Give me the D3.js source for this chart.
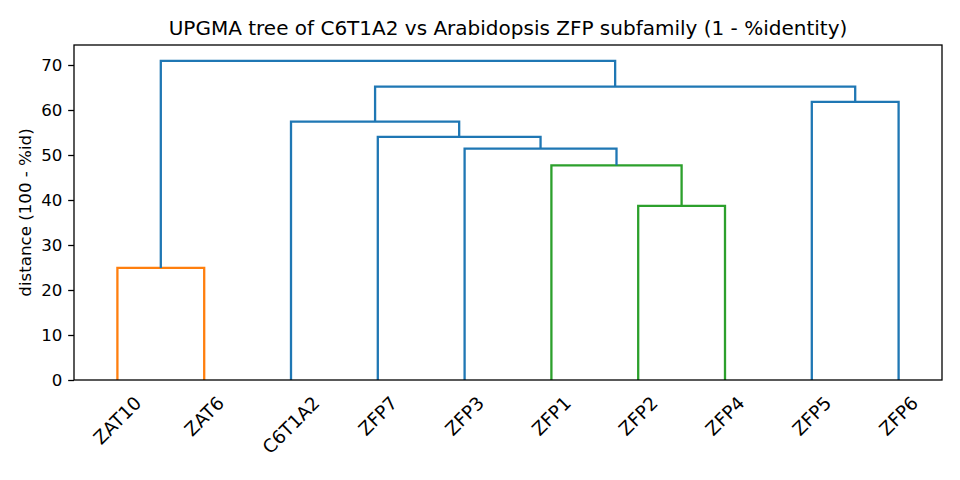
<!DOCTYPE html>
<html>
<head>
<meta charset="utf-8">
<script src="https://cdn.jsdelivr.net/npm/d3@7"></script>
<style>
  body { margin: 0; background: white; }
  text { font-family: "DejaVu Sans", sans-serif; fill: black; }
</style>
</head>
<body>
<script>
// leaves in dendrogram order
var leaves = ["ZAT10", "ZAT6", "C6T1A2", "ZFP7", "ZFP3", "ZFP1", "ZFP2", "ZFP4", "ZFP5", "ZFP6"];

// linkage rows: child a, child b, height (ids >= 10 are earlier merges, scipy style)
var linkA = [0, 6, 5, 4, 3, 2, 8, 15, 10];
var linkB = [1, 7, 11, 12, 13, 14, 9, 16, 17];
var linkH = [24.9, 38.7, 47.7, 51.4, 54.05, 57.4, 61.8, 65.2, 70.9];
var linkColor = ["#ff7f0e", "#2ca02c", "#2ca02c", "#1f77b4", "#1f77b4", "#1f77b4", "#1f77b4", "#1f77b4", "#1f77b4"];

var yTicks = [0, 10, 20, 30, 40, 50, 60, 70];

var WIDTH = 960, HEIGHT = 480;
var PLOT_L = 74, PLOT_R = 942, PLOT_T = 45, PLOT_B = 380;
var PT = 120 / 72; // px per point

var svg = d3.select("body").append("svg")
    .attr("width", WIDTH)
    .attr("height", HEIGHT);

var x = d3.scalePoint().domain(leaves).range([PLOT_L, PLOT_R]).padding(0.5);
var y = d3.scaleLinear().domain([0, d3.max(linkH) * 1.05]).range([PLOT_B, PLOT_T]);

// node positions: leaves first, then merges
var nodeX = leaves.map(function(d) { return x(d); });
var nodeH = leaves.map(function() { return 0; });
linkH.forEach(function(h, i) {
  nodeX.push((nodeX[linkA[i]] + nodeX[linkB[i]]) / 2);
  nodeH.push(h);
});

var links = linkH.map(function(h, i) {
  return {a: linkA[i], b: linkB[i], h: h, color: linkColor[i]};
});

svg.selectAll("path.link")
  .data(links)
  .enter().append("path")
    .attr("class", "link")
    .attr("fill", "none")
    .attr("stroke", function(d) { return d.color; })
    .attr("stroke-width", 2.3)
    .attr("d", function(d) {
      return "M" + nodeX[d.a] + "," + y(nodeH[d.a]) +
             "V" + y(d.h) + "H" + nodeX[d.b] + "V" + y(nodeH[d.b]);
    });

// frame
svg.append("rect")
    .attr("x", PLOT_L).attr("y", PLOT_T)
    .attr("width", PLOT_R - PLOT_L).attr("height", PLOT_B - PLOT_T)
    .attr("fill", "none").attr("stroke", "black").attr("stroke-width", 1.3);

// y axis
var yAxis = svg.append("g")
    .attr("transform", "translate(" + PLOT_L + ",0)")
    .call(d3.axisLeft(y).tickValues(yTicks).tickSize(3.5 * PT).tickPadding(3.5 * PT));
yAxis.select(".domain").remove();
yAxis.selectAll(".tick line").attr("stroke", "black").attr("stroke-width", 1.3);
yAxis.selectAll(".tick text")
    .style("font-family", "DejaVu Sans")
    .style("font-size", (10 * PT) + "px")
    .attr("fill", "black");

// rotated leaf labels, bbox centred under each leaf
var LEAF_FS = 11 * PT;
var labels = svg.selectAll("text.leaf")
  .data(leaves)
  .enter().append("text")
    .attr("class", "leaf")
    .style("font-size", LEAF_FS + "px")
    .attr("text-anchor", "middle")
    .attr("dy", "0.35em")
    .text(function(d) { return d; });

labels.attr("transform", function(d) {
  var w = this.getComputedTextLength();
  var h = LEAF_FS * 1.0;
  var half = (w + h) * Math.SQRT1_2 / 2;
  return "translate(" + x(d) + "," + (PLOT_B + 8 * PT + half) + ") rotate(-45)";
});

// title
svg.append("text")
    .attr("x", (PLOT_L + PLOT_R) / 2)
    .attr("y", PLOT_T - 6 * PT)
    .attr("text-anchor", "middle")
    .style("font-size", (12 * PT) + "px")
    .text("UPGMA tree of C6T1A2 vs Arabidopsis ZFP subfamily (1 - %identity)");

// y label
svg.append("text")
    .attr("transform", "translate(31," + ((PLOT_T + PLOT_B) / 2) + ") rotate(-90)")
    .attr("text-anchor", "middle")
    .style("font-size", (10 * PT) + "px")
    .text("distance (100 - %id)");
</script>
</body>
</html>
